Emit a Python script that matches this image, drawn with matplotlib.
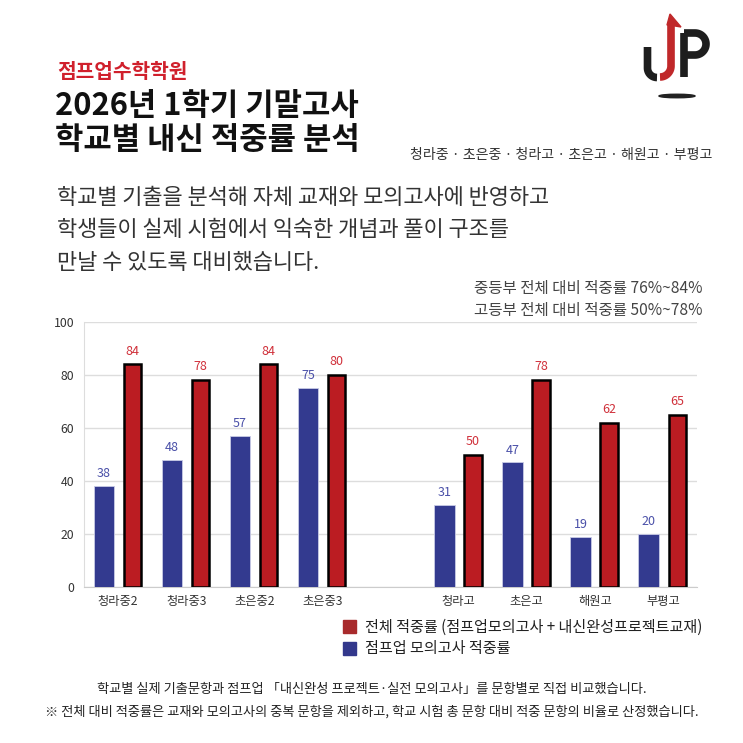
import matplotlib
matplotlib.use("Agg")
import matplotlib.pyplot as plt
import numpy as np
from matplotlib.patches import Ellipse, Polygon

plt.rcParams['font.family'] = ['Noto Sans CJK KR', 'DejaVu Sans']

# 데이터
schools = ["청라중2", "청라중3", "초은중2", "초은중3", "청라고", "초은고", "해원고", "부평고"]
slots = [0, 1, 2, 3, 5, 6, 7, 8]
mock_rate = [38, 48, 57, 75, 31, 47, 19, 20]
total_rate = [84, 78, 84, 80, 50, 78, 62, 65]
yticks = [0, 20, 40, 60, 80, 100]

BLUE = "#333a8f"
RED = "#bb1c22"
W, H = 743, 743

fig = plt.figure(figsize=(W / 100, H / 100), dpi=100)
fig.patch.set_facecolor("white")

# 배경 오버레이 (픽셀 좌표)
bg = fig.add_axes([0, 0, 1, 1])
bg.set_xlim(0, W)
bg.set_ylim(H, 0)
bg.axis("off")

# 로고
th = np.linspace(0, np.pi / 2, 25)
# 왼쪽 검정 U
bg.plot(np.r_[647.5, 657 - 9.5 * np.cos(th)], np.r_[47, 68 + 9.5 * np.sin(th)],
        color="#1e1e1e", lw=5.5, solid_capstyle="butt")
# 빨간 J + 화살표
bg.plot(np.r_[671, 660 + 11 * np.cos(th)], np.r_[24, 66 + 11 * np.sin(th)],
        color="#c0282a", lw=5.5, solid_capstyle="butt")
bg.add_patch(Polygon([[667, 25], [670, 14], [681, 27], [675, 26]], closed=True, color="#c0282a"))
# 검정 P
bg.plot([684, 684], [33, 77], color="#1e1e1e", lw=5.5, solid_capstyle="butt")
t3 = np.linspace(-np.pi / 2, np.pi / 2, 30)
bg.plot(np.r_[684, 695 + 11 * np.cos(t3), 684], np.r_[33, 44 + 11 * np.sin(t3), 55],
        color="#1e1e1e", lw=5.5, solid_capstyle="butt")
bg.add_patch(Ellipse((677, 96), 36, 3.5, color="#222222"))

# 제목
bg.text(57, 72, "점프업수학학원", color="#d0202c", fontsize=14.6, fontweight="bold", va="center")
bg.text(55, 106, "2026년 1학기 기말고사", color="#111111", fontsize=22.2, fontweight="bold", va="center")
bg.text(55, 140, "학교별 내신 적중률 분석", color="#111111", fontsize=22.2, fontweight="bold", va="center")
bg.text(712, 155, "청라중 · 초은중 · 청라고 · 초은고 · 해원고 · 부평고", color="#333333",
        fontsize=10.1, ha="right", va="center")

body = ["학교별 기출을 분석해 자체 교재와 모의고사에 반영하고",
        "학생들이 실제 시험에서 익숙한 개념과 풀이 구조를",
        "만날 수 있도록 대비했습니다."]
for i, line in enumerate(body):
    bg.text(57, 198 + i * 32.5, line, color="#333333", fontsize=15.8, va="center")

bg.text(702, 288, "중등부 전체 대비 적중률 76%~84%", color="#444444", fontsize=11.2, ha="right", va="center")
bg.text(702, 310, "고등부 전체 대비 적중률 50%~78%", color="#444444", fontsize=11.2, ha="right", va="center")

# 차트
ax = fig.add_axes([84 / W, 1 - 587 / H, (697 - 84) / W, (587 - 322) / H])
x = np.array(slots)
b1 = ax.bar(x - 0.21, mock_rate, width=0.30, color=BLUE, edgecolor="#c9cbe6", linewidth=0.6, zorder=3)
b2 = ax.bar(x + 0.21, total_rate, width=0.255, color=RED, edgecolor="black", linewidth=1.8, zorder=3)
for rect, v in zip(b1, mock_rate):
    ax.text(rect.get_x() + rect.get_width() / 2, v + 2.2, str(v), color="#4a50a8",
            fontsize=9, ha="center", va="bottom")
for rect, v in zip(b2, total_rate):
    ax.text(rect.get_x() + rect.get_width() / 2, v + 2.6, str(v), color="#d0303a",
            fontsize=9, ha="center", va="bottom")

ax.set_xlim(-0.5, 8.5)
ax.set_ylim(0, 100)
ax.set_yticks(yticks)
ax.set_xticks(slots)
ax.set_xticklabels(schools)
ax.tick_params(axis="both", length=0, labelsize=8.8, colors="#333333")
ax.tick_params(axis="x", pad=6)
ax.tick_params(axis="y", pad=7)
ax.grid(axis="y", color="#dddddd", linewidth=1, zorder=0)
for s in ["top", "right"]:
    ax.spines[s].set_visible(False)
ax.spines["left"].set_color("#dddddd")
ax.spines["bottom"].set_color("#cccccc")
ax.set_facecolor("none")

# 범례
bg.add_patch(plt.Rectangle((343, 620), 13, 13, color="#a82a2c"))
bg.add_patch(plt.Rectangle((343, 642), 13, 13, color="#33388c"))
bg.text(365, 627, "전체 적중률 (점프업모의고사 + 내신완성프로젝트교재)", color="#222222", fontsize=10.9, va="center")
bg.text(365, 649, "점프업 모의고사 적중률", color="#222222", fontsize=10.9, va="center")

# 각주
bg.text(372, 690, "학교별 실제 기출문항과 점프업 「내신완성 프로젝트·실전 모의고사」를 문항별로 직접 비교했습니다.",
        color="#222222", fontsize=9.5, ha="center", va="center")
bg.text(372, 712, "※ 전체 대비 적중률은 교재와 모의고사의 중복 문항을 제외하고, 학교 시험 총 문항 대비 적중 문항의 비율로 산정했습니다.",
        color="#222222", fontsize=9.5, ha="center", va="center")

fig.savefig("out.png", dpi=100, facecolor="white")
